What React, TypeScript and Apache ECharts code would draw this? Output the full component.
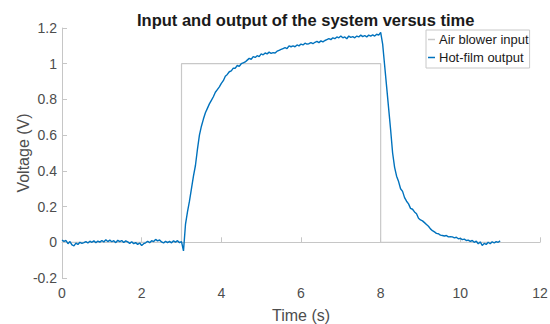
import React, { useEffect, useRef } from "react";
import * as echarts from "echarts";

const title = "Input and output of the system versus time";
const seriesNames = ["Air blower input", "Hot-film output"];
const inputTimes = [0, 3, 3, 8, 8, 11];
const inputValues = [0, 0, 1, 1, 0, 0];
const outputStart = 0;
const outputStep = 0.05;
const outputValues = [
  0.012, 0.005, 0.010, -0.008, 0.004, -0.015, -0.020, -0.005, -0.012, 0.000,
  -0.006, -0.002, 0.004, -0.004, 0.006, 0.000, 0.008, -0.003, 0.007, 0.001,
  0.010, 0.002, 0.014, 0.004, 0.012, 0.003, 0.009, -0.002, 0.011, 0.004,
  0.010, -0.001, 0.008, 0.002, -0.006, 0.003, -0.008, -0.002, -0.012, -0.004,
  -0.018, -0.008, -0.003, 0.006, -0.002, 0.009, 0.004, 0.016, 0.008, 0.013,
  0.002, -0.004, 0.006, -0.002, 0.005, -0.003, 0.008, 0.001, 0.009, -0.002,
  0.004, -0.048, 0.100, 0.170, 0.230, 0.300, 0.370, 0.430, 0.520, 0.600,
  0.650, 0.690, 0.725, 0.750, 0.775, 0.795, 0.815, 0.840, 0.855, 0.870,
  0.890, 0.905, 0.930, 0.940, 0.955, 0.960, 0.975, 0.975, 0.990, 0.985,
  1.000, 1.005, 1.010, 1.020, 1.030, 1.025, 1.040, 1.035, 1.045, 1.040,
  1.055, 1.050, 1.060, 1.055, 1.065, 1.058, 1.062, 1.060, 1.070, 1.075,
  1.080, 1.085, 1.090, 1.085, 1.100, 1.095, 1.100, 1.095, 1.105, 1.100,
  1.110, 1.105, 1.115, 1.110, 1.112, 1.118, 1.112, 1.120, 1.125, 1.118,
  1.128, 1.122, 1.130, 1.135, 1.140, 1.135, 1.145, 1.140, 1.150, 1.145,
  1.155, 1.145, 1.150, 1.140, 1.155, 1.148, 1.152, 1.145, 1.155, 1.150,
  1.160, 1.152, 1.158, 1.150, 1.160, 1.155, 1.162, 1.155, 1.165, 1.160,
  1.175, 1.110, 0.990, 0.870, 0.750, 0.630, 0.500, 0.420, 0.370, 0.340,
  0.300, 0.285, 0.250, 0.230, 0.215, 0.190, 0.185, 0.170, 0.160, 0.135,
  0.125, 0.120, 0.110, 0.100, 0.090, 0.075, 0.065, 0.058, 0.050, 0.048,
  0.040, 0.038, 0.035, 0.038, 0.030, 0.032, 0.030, 0.025, 0.028, 0.020,
  0.022, 0.015, 0.018, 0.010, 0.012, 0.005, 0.010, 0.000, 0.006, -0.008,
  0.002, -0.018, -0.006, -0.012, 0.000, -0.008, 0.003, -0.004, 0.004, 0.000,
  0.008,
];
const xTicks = { min: 0, max: 12, interval: 2 };
const yTicks = { min: -0.2, max: 1.2, interval: 0.2 };

const FONT = "'Liberation Sans', Arial, Helvetica, sans-serif";
const AXIS_GRAY = "#c6c6c6";
const LABEL_GRAY = "#4d4d4d";

export default function App() {
  const ref = useRef<HTMLDivElement>(null);
  useEffect(() => {
    if (!ref.current) return;
    const chart = echarts.init(ref.current, null, { renderer: "svg" });
    const inputData = inputTimes.map((t, i) => [t, inputValues[i]]);
    const outputData = outputValues.map((v, i) => [
      Math.round((outputStart + i * outputStep) * 1000) / 1000,
      v,
    ]);
    const fmt = (v: number) => String(Math.round(v * 10) / 10);
    chart.setOption({
      animation: false,
      backgroundColor: "#ffffff",
      textStyle: { fontFamily: FONT },
      title: {
        text: title,
        left: 132,
        top: 6,
        textStyle: { fontFamily: FONT, fontSize: 16.5, fontWeight: "bold", color: "#1a1a1a" },
      },
      grid: { left: 62, right: 10, top: 28, bottom: 46, containLabel: false, outerBoundsMode: "none" },
      legend: {
        orient: "vertical",
        left: 426,
        top: 30,
        data: seriesNames,
        icon: "rect",
        itemWidth: 7,
        itemHeight: 1.5,
        itemGap: 3,
        padding: [2, 1, 3, 2],
        borderColor: "#c8c8c8",
        borderWidth: 1,
        borderRadius: 0,
        backgroundColor: "#ffffff",
        textStyle: { fontFamily: FONT, fontSize: 13, color: "#1a1a1a", padding: [0, 0, 0, -1], lineHeight: 15 },
      },
      xAxis: {
        type: "value",
        min: xTicks.min,
        max: xTicks.max,
        interval: xTicks.interval,
        name: "Time (s)",
        nameLocation: "middle",
        nameGap: 29,
        nameMoveOverlap: false,
        nameTextStyle: { fontFamily: FONT, fontSize: 16, color: LABEL_GRAY },
        axisLine: { show: true, lineStyle: { color: AXIS_GRAY, width: 1 } },
        axisTick: { show: true, inside: true, length: 5, lineStyle: { color: AXIS_GRAY } },
        axisLabel: { fontFamily: FONT, fontSize: 14, color: LABEL_GRAY, margin: 8 },
        splitLine: { show: false },
      },
      yAxis: {
        type: "value",
        min: yTicks.min,
        max: yTicks.max,
        interval: yTicks.interval,
        name: "Voltage (V)",
        nameLocation: "middle",
        nameGap: 31,
        nameMoveOverlap: false,
        nameTextStyle: { fontFamily: FONT, fontSize: 16, color: LABEL_GRAY },
        axisLine: { show: true, onZero: false, lineStyle: { color: AXIS_GRAY, width: 1 } },
        axisTick: { show: true, inside: true, length: 5, lineStyle: { color: AXIS_GRAY } },
        axisLabel: { fontFamily: FONT, fontSize: 14, color: LABEL_GRAY, margin: 5, formatter: fmt },
        splitLine: { show: false },
      },
      series: [
        {
          name: seriesNames[0],
          type: "line",
          data: inputData,
          showSymbol: false,
          symbol: "none",
          lineStyle: { color: "#c8c8c8", width: 1.2 },
          itemStyle: { color: "#c8c8c8" },
          z: 2,
        },
        {
          name: seriesNames[1],
          type: "line",
          data: outputData,
          showSymbol: false,
          symbol: "none",
          lineStyle: { color: "#0072BD", width: 1.4 },
          itemStyle: { color: "#0072BD" },
          z: 3,
        },
      ],
    });
    return () => chart.dispose();
  }, []);
  return (
    <div
      ref={ref}
      style={{ position: "fixed", left: 0, top: 0, width: 550, height: 324 }}
    />
  );
}
